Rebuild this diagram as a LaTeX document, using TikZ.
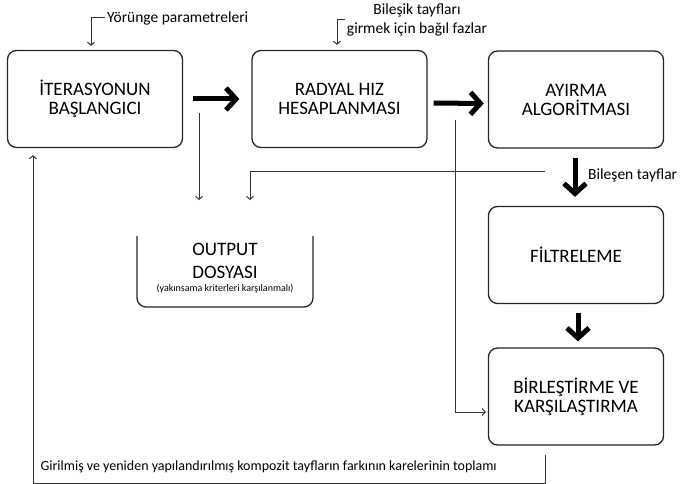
\documentclass[tikz,border=0pt]{standalone}
\usepackage{fontspec}
\setmainfont{Carlito}
\usetikzlibrary{arrows.meta,calc}

\begin{document}
\begin{tikzpicture}[x=1pt,y=-1pt,
    box/.style={draw=black!85,line width=1.3pt,rounded corners=9pt,minimum width=175pt,minimum height=97pt,align=center,font=\fontsize{19}{19}\selectfont},
    lab/.style={font=\fontsize{15.5}{19}\selectfont,inner sep=2pt,align=center},
    bigarrow/.style={line width=5pt,-{Straight Barb[length=10pt,width=22pt]}},
    thinarrow/.style={draw=black!80,line width=1pt,-{Straight Barb[length=3pt,width=7pt]}}]
  \useasboundingbox(0,0)rectangle(680,484);
  \node[box](ite) at (95,99) {İTERASYONUN\\BAŞLANGICI};
  \node[box](rad) at (339.5,99) {RADYAL HIZ\\HESAPLANMASI};
  \node[box](ayr) at (576,99.5) {AYIRMA\\ALGORİTMASI};
  \node[box](fil) at (576,255) {FİLTRELEME};
  \node[box](bir) at (576,396.5) {BİRLEŞTİRME VE\\KARŞILAŞTIRMA};

  \draw[draw=black!85,line width=1.3pt,rounded corners=9pt](137,236)--(137,307)--(313,307)--(313,236);
  \node[align=center,font=\fontsize{19}{23}\selectfont](out) at (225,261) {OUTPUT\\DOSYASI};
  \node[font=\fontsize{10}{12}\selectfont](outnote) at (225,289) {(yakınsama kriterleri karşılanmalı)};

  \node[lab,anchor=west](yor) at (105,18) {Yörünge parametreleri};
  \node[lab](bil) at (417,20) {Bileşik tayfları\\girmek için bağıl fazlar};
  \node[lab,anchor=west](bsn) at (586,175) {Bileşen tayflar};
  \node[font=\fontsize{14}{16}\selectfont,anchor=west](sum) at (37,467) {Girilmiş ve yeniden yapılandırılmış kompozit tayfların farkının karelerinin toplamı};

  \draw[bigarrow,shorten <=10pt,shorten >=12pt](ite)--(rad);
  \draw[bigarrow,shorten <=6pt,shorten >=4pt]([yshift=-4pt]rad.east)--([yshift=-4pt]ayr.west);
  \draw[bigarrow,shorten <=9pt,shorten >=9pt]([xshift=-1pt]ayr.south)--([xshift=-1pt]fil.north);
  \draw[bigarrow,shorten <=9pt,shorten >=6pt]([xshift=2pt]fil.south)--([xshift=2pt]bir.north);

  \coordinate(c1) at (199,113);
  \coordinate(o1) at (199,200);
  \coordinate(c2) at (545,171);
  \coordinate(o2) at (250,200);
  \coordinate(c3) at (455,120);
  \coordinate(b1) at (545,483);
  \coordinate(b2) at (33,483);
  \draw[thinarrow](c1)--(o1);
  \draw[thinarrow](c2)-|(o2);
  \draw[thinarrow,shorten >=2pt](c3)|-([yshift=-15.5pt]bir.west);
  \draw[thinarrow,shorten <=9pt,shorten >=7pt]([xshift=-31pt]bir.south)--(b1)--(b2)--([xshift=-62pt]ite.south);
  \draw[thinarrow,shorten >=4pt](yor.west)-|([xshift=-4pt]ite.north);
  \draw[thinarrow,shorten >=5pt](bil.west)-|([xshift=-2.5pt]rad.north);
\end{tikzpicture}
\end{document}
